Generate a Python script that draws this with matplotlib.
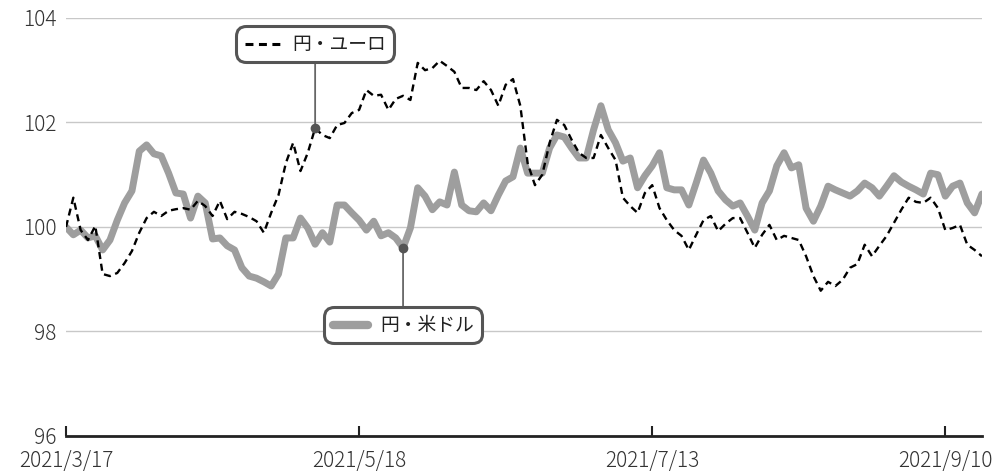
import numpy as np
import matplotlib
matplotlib.use('Agg')
import matplotlib.pyplot as plt
from matplotlib.offsetbox import AnnotationBbox, DrawingArea, TextArea, HPacker
from matplotlib.lines import Line2D

plt.rcParams['font.family'] = ['Noto Sans CJK JP', 'DejaVu Sans']

# 円・米ドル (index, start = 100)
usd = [100.00, 99.85, 99.94, 99.79, 99.83, 99.56, 99.75, 100.13, 100.46, 100.69,
       101.45, 101.57, 101.40, 101.36, 101.03, 100.65, 100.63, 100.17, 100.59, 100.46,
       99.77, 99.79, 99.64, 99.56, 99.22, 99.06, 99.02, 98.95, 98.87, 99.10,
       99.79, 99.79, 100.17, 99.98, 99.67, 99.89, 99.71, 100.42, 100.42, 100.27,
       100.13, 99.94, 100.11, 99.83, 99.89, 99.79, 99.60, 99.98, 100.75, 100.59,
       100.33, 100.48, 100.42, 101.05, 100.42, 100.31, 100.29, 100.46, 100.31, 100.61,
       100.88, 100.96, 101.51, 101.03, 101.03, 101.03, 101.51, 101.76, 101.72, 101.51,
       101.32, 101.32, 101.86, 102.32, 101.86, 101.61, 101.26, 101.32, 100.75, 100.98,
       101.17, 101.42, 100.75, 100.71, 100.71, 100.42, 100.84, 101.28, 101.03, 100.69,
       100.52, 100.40, 100.46, 100.21, 99.94, 100.46, 100.69, 101.17, 101.42, 101.13,
       101.19, 100.36, 100.11, 100.40, 100.78, 100.71, 100.65, 100.59, 100.69, 100.84,
       100.75, 100.59, 100.78, 100.98, 100.86, 100.78, 100.71, 100.63, 101.03, 101.00,
       100.59, 100.78, 100.84, 100.46, 100.27, 100.63]

# 円・ユーロ
eur = [100.00, 100.56, 99.94, 99.75, 100.02, 99.10, 99.06, 99.12, 99.31, 99.54,
       99.89, 100.17, 100.29, 100.21, 100.31, 100.34, 100.36, 100.33, 100.50, 100.40,
       100.21, 100.50, 100.15, 100.29, 100.25, 100.19, 100.11, 99.89, 100.27, 100.61,
       101.22, 101.61, 101.07, 101.42, 101.89, 101.76, 101.70, 101.95, 101.99, 102.18,
       102.24, 102.62, 102.51, 102.53, 102.24, 102.45, 102.51, 102.43, 103.14, 103.00,
       103.04, 103.18, 103.08, 102.97, 102.66, 102.66, 102.62, 102.79, 102.62, 102.32,
       102.72, 102.83, 102.32, 101.22, 100.80, 101.00, 101.61, 102.05, 101.95, 101.67,
       101.42, 101.32, 101.32, 101.76, 101.51, 101.28, 100.56, 100.40, 100.27, 100.65,
       100.80, 100.36, 100.13, 99.94, 99.83, 99.56, 99.85, 100.13, 100.21, 99.92,
       100.06, 100.17, 100.17, 99.89, 99.60, 99.85, 100.04, 99.75, 99.83, 99.79,
       99.75, 99.44, 99.06, 98.78, 98.95, 98.87, 98.99, 99.22, 99.29, 99.66,
       99.44, 99.64, 99.83, 100.08, 100.33, 100.56, 100.48, 100.46, 100.56, 100.36,
       99.94, 99.98, 100.04, 99.66, 99.56, 99.44]

tick_pos = [0, 40, 80, 120]
tick_labels = ['2021/3/17', '2021/5/18', '2021/7/13', '2021/9/10']
yticks = [96, 98, 100, 102, 104]

usd_label = '円・米ドル'
eur_label = '円・ユーロ'
usd_mark = 46   # where the callout points
eur_mark = 34

fig = plt.figure(figsize=(10.03, 4.72), dpi=100)
ax = fig.add_axes([0.0658, 0.0763, 0.9132, 0.8857])

x = np.arange(len(usd))
ax.plot(x, usd, color='#9e9e9e', lw=5, solid_joinstyle='round',
        solid_capstyle='round', zorder=2)
ax.plot(x, eur, color='black', lw=1.7, dashes=(3, 2), zorder=3)

ax.set_xlim(0, len(usd) - 1)
ax.set_ylim(96, 104)
ax.set_yticks(yticks)
ax.set_xticks(tick_pos)
ax.set_xticklabels(tick_labels)
ax.grid(axis='y', color='#c8c8c8', lw=1)
ax.set_axisbelow(True)

for s in ['left', 'right', 'top']:
    ax.spines[s].set_visible(False)
ax.spines['bottom'].set_linewidth(2)
ax.spines['bottom'].set_color('#222')
ax.tick_params(axis='y', length=0, pad=7, labelsize=15, labelcolor='#333')
ax.tick_params(axis='x', direction='in', length=7, width=1.5, color='#222',
               pad=10, labelsize=15, labelcolor='#333')
for lab in ax.get_xticklabels() + ax.get_yticklabels():
    lab.set_fontweight('light')


def callout(label, line_kw, xy, xybox):
    da = DrawingArea(27, 10, 0, 0)
    da.add_artist(Line2D([1, 26], [5, 5], **line_kw))
    ta = TextArea(label, textprops=dict(fontsize=13.5, color='#222'))
    pack = HPacker(children=[da, ta], align='center', pad=0, sep=8)
    ab = AnnotationBbox(pack, xy, xybox=xybox, xycoords='data', boxcoords='data',
                        frameon=True,
                        bboxprops=dict(boxstyle='round,pad=0.55,rounding_size=0.7',
                                       ec='#555', lw=2.2, fc='white'),
                        arrowprops=dict(arrowstyle='-', color='#666', lw=1.3,
                                        shrinkA=0, shrinkB=0),
                        zorder=6)
    ax.add_artist(ab)
    ax.plot(xy[0], xy[1], 'o', color='#555', ms=6, zorder=7)


callout(eur_label, dict(color='black', lw=2.2, dashes=(2.6, 1.8)),
        (eur_mark, eur[eur_mark]), (eur_mark, 103.5))
callout(usd_label, dict(color='#9e9e9e', lw=6, solid_capstyle='round'),
        (usd_mark, usd[usd_mark]), (usd_mark, 98.12))

fig.savefig('out.png', dpi=100)
